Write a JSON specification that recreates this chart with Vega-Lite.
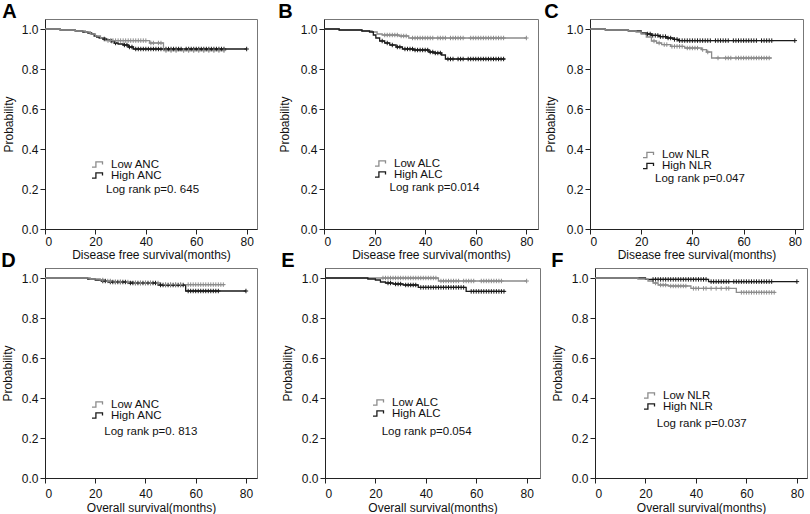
{
"$schema":"https://vega.github.io/schema/vega-lite/v6.json",
"padding":{"left":0,"top":1,"right":0,"bottom":0},
"background":"white",
"config":{
"font":"Liberation Sans",
"view":{"stroke":"#777777","strokeWidth":1},
"axis":{"grid":false,"domainColor":"#222222","tickColor":"#222222","tickSize":5,"labelFontSize":12,"labelColor":"#111111","titleFontSize":12,"titleFontWeight":"normal","titleColor":"#111111","labelPadding":2,"titlePadding":2,"labelFont":"Liberation Sans","titleFont":"Liberation Sans"},
"title":{"anchor":"start","frame":"bounds","fontSize":20,"fontWeight":"bold","offset":-3,"baseline":"alphabetic","color":"#000000","font":"Liberation Sans"},
"legend":{"title":null,"orient":"none","padding":0,"rowPadding":-2,"clipHeight":11,"labelFontSize":11.5,"labelColor":"#111111","labelFont":"Liberation Sans","labelOffset":6,"symbolType":"M-1,0.45H-0.35V-0.45H0.75V0","symbolSize":144,"symbolStrokeWidth":1.4,"symbolFillColor":"transparent"},
"line":{"interpolate":"step-after","strokeWidth":1.3},
"point":{"shape":"M-1,0H1M0,-1V1","filled":false,"size":20,"strokeWidth":1,"opacity":1}
},
"datasets":{
"notes":[{"p":"A","txt":"Log rank p=0. 645"},{"p":"B","txt":"Log rank p=0.014"},{"p":"C","txt":"Log rank p=0.047"},{"p":"D","txt":"Log rank p=0. 813"},{"p":"E","txt":"Log rank p=0.054"},{"p":"F","txt":"Log rank p=0.037"}],
"km":[
{"p":"A","g":"High ANC","t":0,"s":1},{"p":"A","g":"High ANC","t":6,"s":0.995},{"p":"A","g":"High ANC","t":12,"s":0.99},{"p":"A","g":"High ANC","t":15,"s":0.985},{"p":"A","g":"High ANC","t":17,"s":0.98},{"p":"A","g":"High ANC","t":18.5,"s":0.975},{"p":"A","g":"High ANC","t":19.5,"s":0.965},{"p":"A","g":"High ANC","t":20.5,"s":0.96},{"p":"A","g":"High ANC","t":21.5,"s":0.955},{"p":"A","g":"High ANC","t":23,"s":0.95},{"p":"A","g":"High ANC","t":24.5,"s":0.945},{"p":"A","g":"High ANC","t":26,"s":0.94},{"p":"A","g":"High ANC","t":27.5,"s":0.93},{"p":"A","g":"High ANC","t":29,"s":0.925},{"p":"A","g":"High ANC","t":31,"s":0.92},{"p":"A","g":"High ANC","t":33,"s":0.91},{"p":"A","g":"High ANC","t":35,"s":0.9},{"p":"A","g":"High ANC","t":80,"s":0.9},
{"p":"A","g":"Low ANC","t":0,"s":1},{"p":"A","g":"Low ANC","t":6,"s":0.995},{"p":"A","g":"Low ANC","t":12,"s":0.99},{"p":"A","g":"Low ANC","t":16,"s":0.985},{"p":"A","g":"Low ANC","t":18,"s":0.975},{"p":"A","g":"Low ANC","t":20,"s":0.965},{"p":"A","g":"Low ANC","t":22,"s":0.955},{"p":"A","g":"Low ANC","t":24,"s":0.942},{"p":"A","g":"Low ANC","t":41.5,"s":0.93},{"p":"A","g":"Low ANC","t":47,"s":0.892},{"p":"A","g":"Low ANC","t":71.3,"s":0.892},
{"p":"B","g":"Low ALC","t":0,"s":1},{"p":"B","g":"Low ALC","t":6,"s":0.995},{"p":"B","g":"Low ALC","t":15,"s":0.99},{"p":"B","g":"Low ALC","t":19,"s":0.985},{"p":"B","g":"Low ALC","t":21,"s":0.975},{"p":"B","g":"Low ALC","t":23,"s":0.97},{"p":"B","g":"Low ALC","t":29.7,"s":0.965},{"p":"B","g":"Low ALC","t":33.5,"s":0.955},{"p":"B","g":"Low ALC","t":80,"s":0.955},
{"p":"B","g":"High ALC","t":0,"s":1},{"p":"B","g":"High ALC","t":6,"s":0.995},{"p":"B","g":"High ALC","t":15,"s":0.99},{"p":"B","g":"High ALC","t":18,"s":0.985},{"p":"B","g":"High ALC","t":19.5,"s":0.97},{"p":"B","g":"High ALC","t":20.5,"s":0.955},{"p":"B","g":"High ALC","t":22,"s":0.94},{"p":"B","g":"High ALC","t":24,"s":0.93},{"p":"B","g":"High ALC","t":26,"s":0.92},{"p":"B","g":"High ALC","t":28.5,"s":0.91},{"p":"B","g":"High ALC","t":31,"s":0.9},{"p":"B","g":"High ALC","t":35.5,"s":0.895},{"p":"B","g":"High ALC","t":41.5,"s":0.885},{"p":"B","g":"High ALC","t":43.5,"s":0.88},{"p":"B","g":"High ALC","t":46.5,"s":0.87},{"p":"B","g":"High ALC","t":48,"s":0.85},{"p":"B","g":"High ALC","t":71.5,"s":0.85},
{"p":"C","g":"High NLR","t":0,"s":1},{"p":"C","g":"High NLR","t":6,"s":0.995},{"p":"C","g":"High NLR","t":15,"s":0.99},{"p":"C","g":"High NLR","t":20,"s":0.98},{"p":"C","g":"High NLR","t":22,"s":0.975},{"p":"C","g":"High NLR","t":24,"s":0.968},{"p":"C","g":"High NLR","t":27,"s":0.962},{"p":"C","g":"High NLR","t":30,"s":0.955},{"p":"C","g":"High NLR","t":32.5,"s":0.948},{"p":"C","g":"High NLR","t":34.5,"s":0.942},{"p":"C","g":"High NLR","t":80,"s":0.942},
{"p":"C","g":"Low NLR","t":0,"s":1},{"p":"C","g":"Low NLR","t":6,"s":0.995},{"p":"C","g":"Low NLR","t":15,"s":0.99},{"p":"C","g":"Low NLR","t":18,"s":0.985},{"p":"C","g":"Low NLR","t":20,"s":0.975},{"p":"C","g":"Low NLR","t":22,"s":0.96},{"p":"C","g":"Low NLR","t":24,"s":0.94},{"p":"C","g":"Low NLR","t":26,"s":0.93},{"p":"C","g":"Low NLR","t":28,"s":0.922},{"p":"C","g":"Low NLR","t":31.5,"s":0.913},{"p":"C","g":"Low NLR","t":37,"s":0.905},{"p":"C","g":"Low NLR","t":43.5,"s":0.897},{"p":"C","g":"Low NLR","t":45.5,"s":0.885},{"p":"C","g":"Low NLR","t":47.5,"s":0.855},{"p":"C","g":"Low NLR","t":71,"s":0.855},
{"p":"D","g":"High ANC","t":0,"s":1},{"p":"D","g":"High ANC","t":17,"s":0.995},{"p":"D","g":"High ANC","t":20,"s":0.99},{"p":"D","g":"High ANC","t":22.5,"s":0.985},{"p":"D","g":"High ANC","t":25,"s":0.98},{"p":"D","g":"High ANC","t":33,"s":0.975},{"p":"D","g":"High ANC","t":45,"s":0.965},{"p":"D","g":"High ANC","t":56,"s":0.935},{"p":"D","g":"High ANC","t":80,"s":0.935},
{"p":"D","g":"Low ANC","t":0,"s":1},{"p":"D","g":"Low ANC","t":18,"s":0.995},{"p":"D","g":"Low ANC","t":22,"s":0.99},{"p":"D","g":"Low ANC","t":24,"s":0.985},{"p":"D","g":"Low ANC","t":27,"s":0.98},{"p":"D","g":"Low ANC","t":35,"s":0.975},{"p":"D","g":"Low ANC","t":46,"s":0.967},{"p":"D","g":"Low ANC","t":71.5,"s":0.967},
{"p":"E","g":"Low ALC","t":0,"s":1},{"p":"E","g":"Low ALC","t":45,"s":0.985},{"p":"E","g":"Low ALC","t":80,"s":0.985},
{"p":"E","g":"High ALC","t":0,"s":1},{"p":"E","g":"High ALC","t":17,"s":0.995},{"p":"E","g":"High ALC","t":20,"s":0.99},{"p":"E","g":"High ALC","t":22,"s":0.98},{"p":"E","g":"High ALC","t":24,"s":0.975},{"p":"E","g":"High ALC","t":27,"s":0.97},{"p":"E","g":"High ALC","t":31,"s":0.965},{"p":"E","g":"High ALC","t":37,"s":0.953},{"p":"E","g":"High ALC","t":56,"s":0.933},{"p":"E","g":"High ALC","t":71.5,"s":0.933},
{"p":"F","g":"High NLR","t":0,"s":1},{"p":"F","g":"High NLR","t":20,"s":0.993},{"p":"F","g":"High NLR","t":45,"s":0.982},{"p":"F","g":"High NLR","t":80,"s":0.982},
{"p":"F","g":"Low NLR","t":0,"s":1},{"p":"F","g":"Low NLR","t":17,"s":0.995},{"p":"F","g":"Low NLR","t":21,"s":0.985},{"p":"F","g":"Low NLR","t":23,"s":0.975},{"p":"F","g":"Low NLR","t":25,"s":0.965},{"p":"F","g":"Low NLR","t":29,"s":0.96},{"p":"F","g":"Low NLR","t":38,"s":0.948},{"p":"F","g":"Low NLR","t":56,"s":0.928},{"p":"F","g":"Low NLR","t":71.5,"s":0.928}
],
"cens":[
{"p":"A","g":"High ANC","t":23.5,"s":0.95},{"p":"A","g":"High ANC","t":26.5,"s":0.94},{"p":"A","g":"High ANC","t":28,"s":0.93},{"p":"A","g":"High ANC","t":31.5,"s":0.92},{"p":"A","g":"High ANC","t":32.5,"s":0.92},{"p":"A","g":"High ANC","t":33.5,"s":0.91},{"p":"A","g":"High ANC","t":34.5,"s":0.91},{"p":"A","g":"High ANC","t":36,"s":0.9},{"p":"A","g":"High ANC","t":37,"s":0.9},{"p":"A","g":"High ANC","t":38,"s":0.9},{"p":"A","g":"High ANC","t":39,"s":0.9},{"p":"A","g":"High ANC","t":40,"s":0.9},{"p":"A","g":"High ANC","t":41,"s":0.9},{"p":"A","g":"High ANC","t":42,"s":0.9},{"p":"A","g":"High ANC","t":43,"s":0.9},{"p":"A","g":"High ANC","t":44,"s":0.9},{"p":"A","g":"High ANC","t":45,"s":0.9},{"p":"A","g":"High ANC","t":46,"s":0.9},{"p":"A","g":"High ANC","t":48,"s":0.9},{"p":"A","g":"High ANC","t":49,"s":0.9},{"p":"A","g":"High ANC","t":50,"s":0.9},{"p":"A","g":"High ANC","t":51,"s":0.9},{"p":"A","g":"High ANC","t":52,"s":0.9},{"p":"A","g":"High ANC","t":53,"s":0.9},{"p":"A","g":"High ANC","t":54,"s":0.9},{"p":"A","g":"High ANC","t":56,"s":0.9},{"p":"A","g":"High ANC","t":57,"s":0.9},{"p":"A","g":"High ANC","t":58,"s":0.9},{"p":"A","g":"High ANC","t":59,"s":0.9},{"p":"A","g":"High ANC","t":60,"s":0.9},{"p":"A","g":"High ANC","t":61,"s":0.9},{"p":"A","g":"High ANC","t":62,"s":0.9},{"p":"A","g":"High ANC","t":63,"s":0.9},{"p":"A","g":"High ANC","t":64,"s":0.9},{"p":"A","g":"High ANC","t":65,"s":0.9},{"p":"A","g":"High ANC","t":66,"s":0.9},{"p":"A","g":"High ANC","t":67,"s":0.9},{"p":"A","g":"High ANC","t":68,"s":0.9},{"p":"A","g":"High ANC","t":69,"s":0.9},{"p":"A","g":"High ANC","t":70,"s":0.9},{"p":"A","g":"High ANC","t":71,"s":0.9},{"p":"A","g":"High ANC","t":80,"s":0.9},
{"p":"A","g":"Low ANC","t":25,"s":0.942},{"p":"A","g":"Low ANC","t":26,"s":0.942},{"p":"A","g":"Low ANC","t":27,"s":0.942},{"p":"A","g":"Low ANC","t":28,"s":0.942},{"p":"A","g":"Low ANC","t":29,"s":0.942},{"p":"A","g":"Low ANC","t":30,"s":0.942},{"p":"A","g":"Low ANC","t":31,"s":0.942},{"p":"A","g":"Low ANC","t":32,"s":0.942},{"p":"A","g":"Low ANC","t":33,"s":0.942},{"p":"A","g":"Low ANC","t":34,"s":0.942},{"p":"A","g":"Low ANC","t":35,"s":0.942},{"p":"A","g":"Low ANC","t":36,"s":0.942},{"p":"A","g":"Low ANC","t":37,"s":0.942},{"p":"A","g":"Low ANC","t":38,"s":0.942},{"p":"A","g":"Low ANC","t":39,"s":0.942},{"p":"A","g":"Low ANC","t":40,"s":0.942},{"p":"A","g":"Low ANC","t":42,"s":0.93},{"p":"A","g":"Low ANC","t":43,"s":0.93},{"p":"A","g":"Low ANC","t":45,"s":0.93},{"p":"A","g":"Low ANC","t":46,"s":0.93},{"p":"A","g":"Low ANC","t":48,"s":0.892},{"p":"A","g":"Low ANC","t":50,"s":0.892},{"p":"A","g":"Low ANC","t":52,"s":0.892},{"p":"A","g":"Low ANC","t":55,"s":0.892},{"p":"A","g":"Low ANC","t":57,"s":0.892},{"p":"A","g":"Low ANC","t":59,"s":0.892},{"p":"A","g":"Low ANC","t":61,"s":0.892},{"p":"A","g":"Low ANC","t":63,"s":0.892},{"p":"A","g":"Low ANC","t":65,"s":0.892},{"p":"A","g":"Low ANC","t":67,"s":0.892},{"p":"A","g":"Low ANC","t":69,"s":0.892},{"p":"A","g":"Low ANC","t":71,"s":0.892},
{"p":"B","g":"Low ALC","t":24,"s":0.97},{"p":"B","g":"Low ALC","t":25,"s":0.97},{"p":"B","g":"Low ALC","t":26,"s":0.97},{"p":"B","g":"Low ALC","t":27,"s":0.97},{"p":"B","g":"Low ALC","t":28,"s":0.97},{"p":"B","g":"Low ALC","t":29,"s":0.97},{"p":"B","g":"Low ALC","t":30.5,"s":0.965},{"p":"B","g":"Low ALC","t":31.5,"s":0.965},{"p":"B","g":"Low ALC","t":32.5,"s":0.965},{"p":"B","g":"Low ALC","t":35,"s":0.955},{"p":"B","g":"Low ALC","t":36,"s":0.955},{"p":"B","g":"Low ALC","t":37,"s":0.955},{"p":"B","g":"Low ALC","t":38,"s":0.955},{"p":"B","g":"Low ALC","t":39,"s":0.955},{"p":"B","g":"Low ALC","t":40,"s":0.955},{"p":"B","g":"Low ALC","t":41,"s":0.955},{"p":"B","g":"Low ALC","t":42,"s":0.955},{"p":"B","g":"Low ALC","t":43,"s":0.955},{"p":"B","g":"Low ALC","t":45,"s":0.955},{"p":"B","g":"Low ALC","t":46,"s":0.955},{"p":"B","g":"Low ALC","t":47,"s":0.955},{"p":"B","g":"Low ALC","t":48,"s":0.955},{"p":"B","g":"Low ALC","t":50,"s":0.955},{"p":"B","g":"Low ALC","t":51,"s":0.955},{"p":"B","g":"Low ALC","t":52,"s":0.955},{"p":"B","g":"Low ALC","t":53,"s":0.955},{"p":"B","g":"Low ALC","t":54,"s":0.955},{"p":"B","g":"Low ALC","t":55,"s":0.955},{"p":"B","g":"Low ALC","t":58,"s":0.955},{"p":"B","g":"Low ALC","t":59,"s":0.955},{"p":"B","g":"Low ALC","t":60,"s":0.955},{"p":"B","g":"Low ALC","t":61,"s":0.955},{"p":"B","g":"Low ALC","t":62,"s":0.955},{"p":"B","g":"Low ALC","t":63,"s":0.955},{"p":"B","g":"Low ALC","t":64,"s":0.955},{"p":"B","g":"Low ALC","t":65,"s":0.955},{"p":"B","g":"Low ALC","t":66,"s":0.955},{"p":"B","g":"Low ALC","t":67,"s":0.955},{"p":"B","g":"Low ALC","t":68,"s":0.955},{"p":"B","g":"Low ALC","t":69,"s":0.955},{"p":"B","g":"Low ALC","t":70,"s":0.955},{"p":"B","g":"Low ALC","t":71,"s":0.955},{"p":"B","g":"Low ALC","t":80,"s":0.955},
{"p":"B","g":"High ALC","t":23,"s":0.94},{"p":"B","g":"High ALC","t":25,"s":0.93},{"p":"B","g":"High ALC","t":27,"s":0.92},{"p":"B","g":"High ALC","t":29,"s":0.91},{"p":"B","g":"High ALC","t":30,"s":0.91},{"p":"B","g":"High ALC","t":32,"s":0.9},{"p":"B","g":"High ALC","t":33,"s":0.9},{"p":"B","g":"High ALC","t":34,"s":0.9},{"p":"B","g":"High ALC","t":35,"s":0.9},{"p":"B","g":"High ALC","t":36,"s":0.895},{"p":"B","g":"High ALC","t":37,"s":0.895},{"p":"B","g":"High ALC","t":38,"s":0.895},{"p":"B","g":"High ALC","t":39,"s":0.895},{"p":"B","g":"High ALC","t":40,"s":0.895},{"p":"B","g":"High ALC","t":41,"s":0.895},{"p":"B","g":"High ALC","t":42,"s":0.885},{"p":"B","g":"High ALC","t":43,"s":0.885},{"p":"B","g":"High ALC","t":44,"s":0.88},{"p":"B","g":"High ALC","t":45,"s":0.88},{"p":"B","g":"High ALC","t":46,"s":0.88},{"p":"B","g":"High ALC","t":49,"s":0.85},{"p":"B","g":"High ALC","t":50,"s":0.85},{"p":"B","g":"High ALC","t":51,"s":0.85},{"p":"B","g":"High ALC","t":53,"s":0.85},{"p":"B","g":"High ALC","t":54,"s":0.85},{"p":"B","g":"High ALC","t":55,"s":0.85},{"p":"B","g":"High ALC","t":57,"s":0.85},{"p":"B","g":"High ALC","t":58,"s":0.85},{"p":"B","g":"High ALC","t":59,"s":0.85},{"p":"B","g":"High ALC","t":60,"s":0.85},{"p":"B","g":"High ALC","t":61,"s":0.85},{"p":"B","g":"High ALC","t":62,"s":0.85},{"p":"B","g":"High ALC","t":63,"s":0.85},{"p":"B","g":"High ALC","t":64,"s":0.85},{"p":"B","g":"High ALC","t":65,"s":0.85},{"p":"B","g":"High ALC","t":66,"s":0.85},{"p":"B","g":"High ALC","t":67,"s":0.85},{"p":"B","g":"High ALC","t":68,"s":0.85},{"p":"B","g":"High ALC","t":69,"s":0.85},{"p":"B","g":"High ALC","t":70,"s":0.85},{"p":"B","g":"High ALC","t":71,"s":0.85},
{"p":"C","g":"High NLR","t":22.5,"s":0.975},{"p":"C","g":"High NLR","t":23.5,"s":0.975},{"p":"C","g":"High NLR","t":24.5,"s":0.968},{"p":"C","g":"High NLR","t":25.5,"s":0.968},{"p":"C","g":"High NLR","t":26.5,"s":0.968},{"p":"C","g":"High NLR","t":27.5,"s":0.962},{"p":"C","g":"High NLR","t":28.5,"s":0.962},{"p":"C","g":"High NLR","t":29.5,"s":0.962},{"p":"C","g":"High NLR","t":30.5,"s":0.955},{"p":"C","g":"High NLR","t":31.5,"s":0.955},{"p":"C","g":"High NLR","t":33,"s":0.948},{"p":"C","g":"High NLR","t":34,"s":0.948},{"p":"C","g":"High NLR","t":35,"s":0.942},{"p":"C","g":"High NLR","t":36,"s":0.942},{"p":"C","g":"High NLR","t":37,"s":0.942},{"p":"C","g":"High NLR","t":38,"s":0.942},{"p":"C","g":"High NLR","t":39,"s":0.942},{"p":"C","g":"High NLR","t":40,"s":0.942},{"p":"C","g":"High NLR","t":41,"s":0.942},{"p":"C","g":"High NLR","t":42,"s":0.942},{"p":"C","g":"High NLR","t":43,"s":0.942},{"p":"C","g":"High NLR","t":44,"s":0.942},{"p":"C","g":"High NLR","t":45,"s":0.942},{"p":"C","g":"High NLR","t":46,"s":0.942},{"p":"C","g":"High NLR","t":47,"s":0.942},{"p":"C","g":"High NLR","t":49,"s":0.942},{"p":"C","g":"High NLR","t":50,"s":0.942},{"p":"C","g":"High NLR","t":51,"s":0.942},{"p":"C","g":"High NLR","t":52,"s":0.942},{"p":"C","g":"High NLR","t":53,"s":0.942},{"p":"C","g":"High NLR","t":54,"s":0.942},{"p":"C","g":"High NLR","t":56,"s":0.942},{"p":"C","g":"High NLR","t":57,"s":0.942},{"p":"C","g":"High NLR","t":58,"s":0.942},{"p":"C","g":"High NLR","t":59,"s":0.942},{"p":"C","g":"High NLR","t":60,"s":0.942},{"p":"C","g":"High NLR","t":61,"s":0.942},{"p":"C","g":"High NLR","t":62,"s":0.942},{"p":"C","g":"High NLR","t":63,"s":0.942},{"p":"C","g":"High NLR","t":64,"s":0.942},{"p":"C","g":"High NLR","t":65,"s":0.942},{"p":"C","g":"High NLR","t":67,"s":0.942},{"p":"C","g":"High NLR","t":68,"s":0.942},{"p":"C","g":"High NLR","t":69,"s":0.942},{"p":"C","g":"High NLR","t":70,"s":0.942},{"p":"C","g":"High NLR","t":71,"s":0.942},{"p":"C","g":"High NLR","t":80,"s":0.942},
{"p":"C","g":"Low NLR","t":25,"s":0.94},{"p":"C","g":"Low NLR","t":27,"s":0.93},{"p":"C","g":"Low NLR","t":29,"s":0.922},{"p":"C","g":"Low NLR","t":30,"s":0.922},{"p":"C","g":"Low NLR","t":32,"s":0.913},{"p":"C","g":"Low NLR","t":33,"s":0.913},{"p":"C","g":"Low NLR","t":34,"s":0.913},{"p":"C","g":"Low NLR","t":35,"s":0.913},{"p":"C","g":"Low NLR","t":36,"s":0.913},{"p":"C","g":"Low NLR","t":38,"s":0.905},{"p":"C","g":"Low NLR","t":39,"s":0.905},{"p":"C","g":"Low NLR","t":40,"s":0.905},{"p":"C","g":"Low NLR","t":41,"s":0.905},{"p":"C","g":"Low NLR","t":42,"s":0.905},{"p":"C","g":"Low NLR","t":44,"s":0.897},{"p":"C","g":"Low NLR","t":46,"s":0.885},{"p":"C","g":"Low NLR","t":50,"s":0.855},{"p":"C","g":"Low NLR","t":53,"s":0.855},{"p":"C","g":"Low NLR","t":54,"s":0.855},{"p":"C","g":"Low NLR","t":55,"s":0.855},{"p":"C","g":"Low NLR","t":57,"s":0.855},{"p":"C","g":"Low NLR","t":58,"s":0.855},{"p":"C","g":"Low NLR","t":59,"s":0.855},{"p":"C","g":"Low NLR","t":60,"s":0.855},{"p":"C","g":"Low NLR","t":61,"s":0.855},{"p":"C","g":"Low NLR","t":62,"s":0.855},{"p":"C","g":"Low NLR","t":63,"s":0.855},{"p":"C","g":"Low NLR","t":64,"s":0.855},{"p":"C","g":"Low NLR","t":65,"s":0.855},{"p":"C","g":"Low NLR","t":66,"s":0.855},{"p":"C","g":"Low NLR","t":67,"s":0.855},{"p":"C","g":"Low NLR","t":68,"s":0.855},{"p":"C","g":"Low NLR","t":69,"s":0.855},{"p":"C","g":"Low NLR","t":70,"s":0.855},
{"p":"D","g":"High ANC","t":23,"s":0.985},{"p":"D","g":"High ANC","t":24,"s":0.985},{"p":"D","g":"High ANC","t":26,"s":0.98},{"p":"D","g":"High ANC","t":27,"s":0.98},{"p":"D","g":"High ANC","t":28,"s":0.98},{"p":"D","g":"High ANC","t":29,"s":0.98},{"p":"D","g":"High ANC","t":30,"s":0.98},{"p":"D","g":"High ANC","t":31,"s":0.98},{"p":"D","g":"High ANC","t":32,"s":0.98},{"p":"D","g":"High ANC","t":34,"s":0.975},{"p":"D","g":"High ANC","t":35,"s":0.975},{"p":"D","g":"High ANC","t":36,"s":0.975},{"p":"D","g":"High ANC","t":37,"s":0.975},{"p":"D","g":"High ANC","t":38,"s":0.975},{"p":"D","g":"High ANC","t":39,"s":0.975},{"p":"D","g":"High ANC","t":40,"s":0.975},{"p":"D","g":"High ANC","t":41,"s":0.975},{"p":"D","g":"High ANC","t":42,"s":0.975},{"p":"D","g":"High ANC","t":43,"s":0.975},{"p":"D","g":"High ANC","t":44,"s":0.975},{"p":"D","g":"High ANC","t":46,"s":0.965},{"p":"D","g":"High ANC","t":47,"s":0.965},{"p":"D","g":"High ANC","t":48,"s":0.965},{"p":"D","g":"High ANC","t":49,"s":0.965},{"p":"D","g":"High ANC","t":50,"s":0.965},{"p":"D","g":"High ANC","t":51,"s":0.965},{"p":"D","g":"High ANC","t":52,"s":0.965},{"p":"D","g":"High ANC","t":53,"s":0.965},{"p":"D","g":"High ANC","t":54,"s":0.965},{"p":"D","g":"High ANC","t":55,"s":0.965},{"p":"D","g":"High ANC","t":57,"s":0.935},{"p":"D","g":"High ANC","t":58,"s":0.935},{"p":"D","g":"High ANC","t":59,"s":0.935},{"p":"D","g":"High ANC","t":60,"s":0.935},{"p":"D","g":"High ANC","t":61,"s":0.935},{"p":"D","g":"High ANC","t":62,"s":0.935},{"p":"D","g":"High ANC","t":63,"s":0.935},{"p":"D","g":"High ANC","t":64,"s":0.935},{"p":"D","g":"High ANC","t":65,"s":0.935},{"p":"D","g":"High ANC","t":66,"s":0.935},{"p":"D","g":"High ANC","t":67,"s":0.935},{"p":"D","g":"High ANC","t":68,"s":0.935},{"p":"D","g":"High ANC","t":69,"s":0.935},{"p":"D","g":"High ANC","t":80,"s":0.935},
{"p":"D","g":"Low ANC","t":23,"s":0.99},{"p":"D","g":"Low ANC","t":25,"s":0.985},{"p":"D","g":"Low ANC","t":26,"s":0.985},{"p":"D","g":"Low ANC","t":28,"s":0.98},{"p":"D","g":"Low ANC","t":30,"s":0.98},{"p":"D","g":"Low ANC","t":33,"s":0.98},{"p":"D","g":"Low ANC","t":36,"s":0.975},{"p":"D","g":"Low ANC","t":38,"s":0.975},{"p":"D","g":"Low ANC","t":40,"s":0.975},{"p":"D","g":"Low ANC","t":42,"s":0.975},{"p":"D","g":"Low ANC","t":45,"s":0.975},{"p":"D","g":"Low ANC","t":48,"s":0.967},{"p":"D","g":"Low ANC","t":50,"s":0.967},{"p":"D","g":"Low ANC","t":52,"s":0.967},{"p":"D","g":"Low ANC","t":54,"s":0.967},{"p":"D","g":"Low ANC","t":57,"s":0.967},{"p":"D","g":"Low ANC","t":58,"s":0.967},{"p":"D","g":"Low ANC","t":59,"s":0.967},{"p":"D","g":"Low ANC","t":60,"s":0.967},{"p":"D","g":"Low ANC","t":61,"s":0.967},{"p":"D","g":"Low ANC","t":62,"s":0.967},{"p":"D","g":"Low ANC","t":63,"s":0.967},{"p":"D","g":"Low ANC","t":64,"s":0.967},{"p":"D","g":"Low ANC","t":65,"s":0.967},{"p":"D","g":"Low ANC","t":66,"s":0.967},{"p":"D","g":"Low ANC","t":67,"s":0.967},{"p":"D","g":"Low ANC","t":68,"s":0.967},{"p":"D","g":"Low ANC","t":69,"s":0.967},{"p":"D","g":"Low ANC","t":70,"s":0.967},{"p":"D","g":"Low ANC","t":71,"s":0.967},
{"p":"E","g":"Low ALC","t":23,"s":1},{"p":"E","g":"Low ALC","t":24,"s":1},{"p":"E","g":"Low ALC","t":25,"s":1},{"p":"E","g":"Low ALC","t":26,"s":1},{"p":"E","g":"Low ALC","t":27,"s":1},{"p":"E","g":"Low ALC","t":28,"s":1},{"p":"E","g":"Low ALC","t":29,"s":1},{"p":"E","g":"Low ALC","t":30,"s":1},{"p":"E","g":"Low ALC","t":31,"s":1},{"p":"E","g":"Low ALC","t":32,"s":1},{"p":"E","g":"Low ALC","t":33,"s":1},{"p":"E","g":"Low ALC","t":34,"s":1},{"p":"E","g":"Low ALC","t":35,"s":1},{"p":"E","g":"Low ALC","t":36,"s":1},{"p":"E","g":"Low ALC","t":37,"s":1},{"p":"E","g":"Low ALC","t":38,"s":1},{"p":"E","g":"Low ALC","t":39,"s":1},{"p":"E","g":"Low ALC","t":40,"s":1},{"p":"E","g":"Low ALC","t":41,"s":1},{"p":"E","g":"Low ALC","t":42,"s":1},{"p":"E","g":"Low ALC","t":43,"s":1},{"p":"E","g":"Low ALC","t":44,"s":1},{"p":"E","g":"Low ALC","t":46,"s":0.985},{"p":"E","g":"Low ALC","t":47,"s":0.985},{"p":"E","g":"Low ALC","t":48,"s":0.985},{"p":"E","g":"Low ALC","t":49,"s":0.985},{"p":"E","g":"Low ALC","t":50,"s":0.985},{"p":"E","g":"Low ALC","t":51,"s":0.985},{"p":"E","g":"Low ALC","t":52,"s":0.985},{"p":"E","g":"Low ALC","t":53,"s":0.985},{"p":"E","g":"Low ALC","t":55,"s":0.985},{"p":"E","g":"Low ALC","t":56,"s":0.985},{"p":"E","g":"Low ALC","t":57,"s":0.985},{"p":"E","g":"Low ALC","t":58,"s":0.985},{"p":"E","g":"Low ALC","t":59,"s":0.985},{"p":"E","g":"Low ALC","t":62,"s":0.985},{"p":"E","g":"Low ALC","t":63,"s":0.985},{"p":"E","g":"Low ALC","t":64,"s":0.985},{"p":"E","g":"Low ALC","t":65,"s":0.985},{"p":"E","g":"Low ALC","t":66,"s":0.985},{"p":"E","g":"Low ALC","t":67,"s":0.985},{"p":"E","g":"Low ALC","t":68,"s":0.985},{"p":"E","g":"Low ALC","t":69,"s":0.985},{"p":"E","g":"Low ALC","t":70,"s":0.985},{"p":"E","g":"Low ALC","t":80,"s":0.985},
{"p":"E","g":"High ALC","t":25,"s":0.975},{"p":"E","g":"High ALC","t":26,"s":0.975},{"p":"E","g":"High ALC","t":28,"s":0.97},{"p":"E","g":"High ALC","t":29,"s":0.97},{"p":"E","g":"High ALC","t":30,"s":0.97},{"p":"E","g":"High ALC","t":32,"s":0.965},{"p":"E","g":"High ALC","t":33,"s":0.965},{"p":"E","g":"High ALC","t":34,"s":0.965},{"p":"E","g":"High ALC","t":35,"s":0.965},{"p":"E","g":"High ALC","t":36,"s":0.965},{"p":"E","g":"High ALC","t":38,"s":0.953},{"p":"E","g":"High ALC","t":39,"s":0.953},{"p":"E","g":"High ALC","t":40,"s":0.953},{"p":"E","g":"High ALC","t":41,"s":0.953},{"p":"E","g":"High ALC","t":42,"s":0.953},{"p":"E","g":"High ALC","t":43,"s":0.953},{"p":"E","g":"High ALC","t":44,"s":0.953},{"p":"E","g":"High ALC","t":45,"s":0.953},{"p":"E","g":"High ALC","t":46,"s":0.953},{"p":"E","g":"High ALC","t":47,"s":0.953},{"p":"E","g":"High ALC","t":48,"s":0.953},{"p":"E","g":"High ALC","t":49,"s":0.953},{"p":"E","g":"High ALC","t":50,"s":0.953},{"p":"E","g":"High ALC","t":51,"s":0.953},{"p":"E","g":"High ALC","t":52,"s":0.953},{"p":"E","g":"High ALC","t":53,"s":0.953},{"p":"E","g":"High ALC","t":54,"s":0.953},{"p":"E","g":"High ALC","t":55,"s":0.953},{"p":"E","g":"High ALC","t":58,"s":0.933},{"p":"E","g":"High ALC","t":59,"s":0.933},{"p":"E","g":"High ALC","t":60,"s":0.933},{"p":"E","g":"High ALC","t":61,"s":0.933},{"p":"E","g":"High ALC","t":62,"s":0.933},{"p":"E","g":"High ALC","t":63,"s":0.933},{"p":"E","g":"High ALC","t":64,"s":0.933},{"p":"E","g":"High ALC","t":65,"s":0.933},{"p":"E","g":"High ALC","t":66,"s":0.933},{"p":"E","g":"High ALC","t":67,"s":0.933},{"p":"E","g":"High ALC","t":68,"s":0.933},{"p":"E","g":"High ALC","t":69,"s":0.933},{"p":"E","g":"High ALC","t":70,"s":0.933},{"p":"E","g":"High ALC","t":71,"s":0.933},
{"p":"F","g":"High NLR","t":23,"s":0.993},{"p":"F","g":"High NLR","t":24,"s":0.993},{"p":"F","g":"High NLR","t":25,"s":0.993},{"p":"F","g":"High NLR","t":26,"s":0.993},{"p":"F","g":"High NLR","t":27,"s":0.993},{"p":"F","g":"High NLR","t":28,"s":0.993},{"p":"F","g":"High NLR","t":29,"s":0.993},{"p":"F","g":"High NLR","t":30,"s":0.993},{"p":"F","g":"High NLR","t":31,"s":0.993},{"p":"F","g":"High NLR","t":32,"s":0.993},{"p":"F","g":"High NLR","t":33,"s":0.993},{"p":"F","g":"High NLR","t":34,"s":0.993},{"p":"F","g":"High NLR","t":35,"s":0.993},{"p":"F","g":"High NLR","t":36,"s":0.993},{"p":"F","g":"High NLR","t":37,"s":0.993},{"p":"F","g":"High NLR","t":38,"s":0.993},{"p":"F","g":"High NLR","t":39,"s":0.993},{"p":"F","g":"High NLR","t":40,"s":0.993},{"p":"F","g":"High NLR","t":41,"s":0.993},{"p":"F","g":"High NLR","t":42,"s":0.993},{"p":"F","g":"High NLR","t":43,"s":0.993},{"p":"F","g":"High NLR","t":44,"s":0.993},{"p":"F","g":"High NLR","t":46,"s":0.982},{"p":"F","g":"High NLR","t":47,"s":0.982},{"p":"F","g":"High NLR","t":48,"s":0.982},{"p":"F","g":"High NLR","t":49,"s":0.982},{"p":"F","g":"High NLR","t":50,"s":0.982},{"p":"F","g":"High NLR","t":51,"s":0.982},{"p":"F","g":"High NLR","t":52,"s":0.982},{"p":"F","g":"High NLR","t":53,"s":0.982},{"p":"F","g":"High NLR","t":55,"s":0.982},{"p":"F","g":"High NLR","t":56,"s":0.982},{"p":"F","g":"High NLR","t":57,"s":0.982},{"p":"F","g":"High NLR","t":58,"s":0.982},{"p":"F","g":"High NLR","t":59,"s":0.982},{"p":"F","g":"High NLR","t":60,"s":0.982},{"p":"F","g":"High NLR","t":61,"s":0.982},{"p":"F","g":"High NLR","t":62,"s":0.982},{"p":"F","g":"High NLR","t":63,"s":0.982},{"p":"F","g":"High NLR","t":64,"s":0.982},{"p":"F","g":"High NLR","t":65,"s":0.982},{"p":"F","g":"High NLR","t":66,"s":0.982},{"p":"F","g":"High NLR","t":67,"s":0.982},{"p":"F","g":"High NLR","t":68,"s":0.982},{"p":"F","g":"High NLR","t":69,"s":0.982},{"p":"F","g":"High NLR","t":70,"s":0.982},{"p":"F","g":"High NLR","t":80,"s":0.982},
{"p":"F","g":"Low NLR","t":24,"s":0.975},{"p":"F","g":"Low NLR","t":26,"s":0.965},{"p":"F","g":"Low NLR","t":27,"s":0.965},{"p":"F","g":"Low NLR","t":28,"s":0.965},{"p":"F","g":"Low NLR","t":30,"s":0.96},{"p":"F","g":"Low NLR","t":31,"s":0.96},{"p":"F","g":"Low NLR","t":32,"s":0.96},{"p":"F","g":"Low NLR","t":33,"s":0.96},{"p":"F","g":"Low NLR","t":34,"s":0.96},{"p":"F","g":"Low NLR","t":35,"s":0.96},{"p":"F","g":"Low NLR","t":36,"s":0.96},{"p":"F","g":"Low NLR","t":39,"s":0.948},{"p":"F","g":"Low NLR","t":40,"s":0.948},{"p":"F","g":"Low NLR","t":41,"s":0.948},{"p":"F","g":"Low NLR","t":43,"s":0.948},{"p":"F","g":"Low NLR","t":44,"s":0.948},{"p":"F","g":"Low NLR","t":46,"s":0.948},{"p":"F","g":"Low NLR","t":48,"s":0.948},{"p":"F","g":"Low NLR","t":50,"s":0.948},{"p":"F","g":"Low NLR","t":52,"s":0.948},{"p":"F","g":"Low NLR","t":53,"s":0.948},{"p":"F","g":"Low NLR","t":58,"s":0.928},{"p":"F","g":"Low NLR","t":59,"s":0.928},{"p":"F","g":"Low NLR","t":60,"s":0.928},{"p":"F","g":"Low NLR","t":61,"s":0.928},{"p":"F","g":"Low NLR","t":62,"s":0.928},{"p":"F","g":"Low NLR","t":63,"s":0.928},{"p":"F","g":"Low NLR","t":64,"s":0.928},{"p":"F","g":"Low NLR","t":65,"s":0.928},{"p":"F","g":"Low NLR","t":66,"s":0.928},{"p":"F","g":"Low NLR","t":67,"s":0.928},{"p":"F","g":"Low NLR","t":68,"s":0.928},{"p":"F","g":"Low NLR","t":69,"s":0.928},{"p":"F","g":"Low NLR","t":70,"s":0.928},{"p":"F","g":"Low NLR","t":71,"s":0.928}
]
},
"spacing":-11,
"resolve":{"scale":{"color":"independent"},"legend":{"color":"independent"}},
"vconcat":[
{"spacing":19,"resolve":{"scale":{"color":"independent"},"legend":{"color":"independent"}},
"hconcat":[
{"width":212,"height":210,"title":"A","layer":[
{"data":{"name":"km"},"transform":[{"filter":"datum.p === 'A'"}],"mark":{"type":"line"},"encoding":{
"x":{"field":"t","type":"quantitative","scale":{"domain":[0,84.1],"nice":false},"axis":{"values":[0,20,40,60,80],"title":"Disease free survival(months)"}},
"y":{"field":"s","type":"quantitative","scale":{"domain":[0,1.05],"nice":false},"axis":{"values":[0,0.2,0.4,0.6,0.8,1],"format":".1f","title":"Probability","titlePadding":6}},
"color":{"field":"g","type":"nominal","scale":{"domain":["Low ANC","High ANC"],"range":["#8c8c8c","#1a1a1a"]},"legend":{"legendX":46,"legendY":140,"symbolType":"M-1,0.45H-0.35V-0.45H0.75V0","symbolFillColor":"transparent"}}}},
{"data":{"name":"cens"},"transform":[{"filter":"datum.p === 'A'"}],"mark":{"type":"point"},"encoding":{"x":{"field":"t","type":"quantitative"},"y":{"field":"s","type":"quantitative"},"color":{"field":"g","type":"nominal"}}},
{"data":{"name":"notes"},"transform":[{"filter":"datum.p === 'A'"}],"mark":{"type":"text","align":"left","baseline":"middle","fontSize":11.5,"color":"#111111"},"encoding":{"x":{"datum":24.2,"type":"quantitative"},"y":{"datum":0.193,"type":"quantitative"},"text":{"field":"txt"}}}
]},
{"spacing":4,"resolve":{"scale":{"color":"independent"},"legend":{"color":"independent"}},"hconcat":[
{"width":214,"height":210,"title":"B","layer":[
{"data":{"name":"km"},"transform":[{"filter":"datum.p === 'B'"}],"mark":{"type":"line"},"encoding":{
"x":{"field":"t","type":"quantitative","scale":{"domain":[0,84.6],"nice":false},"axis":{"values":[0,20,40,60,80],"title":"Disease free survival(months)"}},
"y":{"field":"s","type":"quantitative","scale":{"domain":[0,1.05],"nice":false},"axis":{"values":[0,0.2,0.4,0.6,0.8,1],"format":".1f","title":"Probability","titlePadding":9}},
"color":{"field":"g","type":"nominal","scale":{"domain":["Low ALC","High ALC"],"range":["#8c8c8c","#1a1a1a"]},"legend":{"legendX":50,"legendY":139,"symbolType":"M-1,0.45H-0.35V-0.45H0.75V0","symbolFillColor":"transparent"}}}},
{"data":{"name":"cens"},"transform":[{"filter":"datum.p === 'B'"}],"mark":{"type":"point"},"encoding":{"x":{"field":"t","type":"quantitative"},"y":{"field":"s","type":"quantitative"},"color":{"field":"g","type":"nominal"}}},
{"data":{"name":"notes"},"transform":[{"filter":"datum.p === 'B'"}],"mark":{"type":"text","align":"left","baseline":"middle","fontSize":11.5,"color":"#111111"},"encoding":{"x":{"datum":25.9,"type":"quantitative"},"y":{"datum":0.203,"type":"quantitative"},"text":{"field":"txt"}}}
]},
{"width":213,"height":210,"title":"C","layer":[
{"data":{"name":"km"},"transform":[{"filter":"datum.p === 'C'"}],"mark":{"type":"line"},"encoding":{
"x":{"field":"t","type":"quantitative","scale":{"domain":[0,83.2],"nice":false},"axis":{"values":[0,20,40,60,80],"title":"Disease free survival(months)"}},
"y":{"field":"s","type":"quantitative","scale":{"domain":[0,1.05],"nice":false},"axis":{"values":[0,0.2,0.4,0.6,0.8,1],"format":".1f","title":"Probability","titlePadding":9}},
"color":{"field":"g","type":"nominal","scale":{"domain":["Low NLR","High NLR"],"range":["#8c8c8c","#1a1a1a"]},"legend":{"legendX":52,"legendY":130.5,"symbolType":"M-1,0.45H-0.35V-0.45H0.75V0","symbolFillColor":"transparent"}}}},
{"data":{"name":"cens"},"transform":[{"filter":"datum.p === 'C'"}],"mark":{"type":"point"},"encoding":{"x":{"field":"t","type":"quantitative"},"y":{"field":"s","type":"quantitative"},"color":{"field":"g","type":"nominal"}}},
{"data":{"name":"notes"},"transform":[{"filter":"datum.p === 'C'"}],"mark":{"type":"text","align":"left","baseline":"middle","fontSize":11.5,"color":"#111111"},"encoding":{"x":{"datum":25.4,"type":"quantitative"},"y":{"datum":0.252,"type":"quantitative"},"text":{"field":"txt"}}}
]}
]}
]},
{"spacing":22,"resolve":{"scale":{"color":"independent"},"legend":{"color":"independent"}},
"hconcat":[
{"width":212,"height":210,"title":"D","layer":[
{"data":{"name":"km"},"transform":[{"filter":"datum.p === 'D'"}],"mark":{"type":"line"},"encoding":{
"x":{"field":"t","type":"quantitative","scale":{"domain":[0,84.4],"nice":false},"axis":{"values":[0,20,40,60,80],"title":"Overall survival(months)","labelPadding":5,"titlePadding":3}},
"y":{"field":"s","type":"quantitative","scale":{"domain":[0,1.05],"nice":false},"axis":{"values":[0,0.2,0.4,0.6,0.8,1],"format":".1f","title":"Probability","titlePadding":7}},
"color":{"field":"g","type":"nominal","scale":{"domain":["Low ANC","High ANC"],"range":["#8c8c8c","#1a1a1a"]},"legend":{"legendX":46,"legendY":131,"symbolType":"M-1,0.45H-0.35V-0.45H0.75V0","symbolFillColor":"transparent"}}}},
{"data":{"name":"cens"},"transform":[{"filter":"datum.p === 'D'"}],"mark":{"type":"point"},"encoding":{"x":{"field":"t","type":"quantitative"},"y":{"field":"s","type":"quantitative"},"color":{"field":"g","type":"nominal"}}},
{"data":{"name":"notes"},"transform":[{"filter":"datum.p === 'D'"}],"mark":{"type":"text","align":"left","baseline":"middle","fontSize":11.5,"color":"#111111"},"encoding":{"x":{"datum":23.6,"type":"quantitative"},"y":{"datum":0.232,"type":"quantitative"},"text":{"field":"txt"}}}
]},
{"spacing":9,"resolve":{"scale":{"color":"independent"},"legend":{"color":"independent"}},"hconcat":[
{"width":215,"height":210,"title":"E","layer":[
{"data":{"name":"km"},"transform":[{"filter":"datum.p === 'E'"}],"mark":{"type":"line"},"encoding":{
"x":{"field":"t","type":"quantitative","scale":{"domain":[0,85.3],"nice":false},"axis":{"values":[0,20,40,60,80],"title":"Overall survival(months)","labelPadding":5,"titlePadding":3}},
"y":{"field":"s","type":"quantitative","scale":{"domain":[0,1.05],"nice":false},"axis":{"values":[0,0.2,0.4,0.6,0.8,1],"format":".1f","title":"Probability","titlePadding":7}},
"color":{"field":"g","type":"nominal","scale":{"domain":["Low ALC","High ALC"],"range":["#8c8c8c","#1a1a1a"]},"legend":{"legendX":47,"legendY":129,"symbolType":"M-1,0.45H-0.35V-0.45H0.75V0","symbolFillColor":"transparent"}}}},
{"data":{"name":"cens"},"transform":[{"filter":"datum.p === 'E'"}],"mark":{"type":"point"},"encoding":{"x":{"field":"t","type":"quantitative"},"y":{"field":"s","type":"quantitative"},"color":{"field":"g","type":"nominal"}}},
{"data":{"name":"notes"},"transform":[{"filter":"datum.p === 'E'"}],"mark":{"type":"text","align":"left","baseline":"middle","fontSize":11.5,"color":"#111111"},"encoding":{"x":{"datum":22.5,"type":"quantitative"},"y":{"datum":0.232,"type":"quantitative"},"text":{"field":"txt"}}}
]},
{"width":212,"height":210,"title":"F","layer":[
{"data":{"name":"km"},"transform":[{"filter":"datum.p === 'F'"}],"mark":{"type":"line"},"encoding":{
"x":{"field":"t","type":"quantitative","scale":{"domain":[0,84],"nice":false},"axis":{"values":[0,20,40,60,80],"title":"Overall survival(months)","labelPadding":5,"titlePadding":3}},
"y":{"field":"s","type":"quantitative","scale":{"domain":[0,1.05],"nice":false},"axis":{"values":[0,0.2,0.4,0.6,0.8,1],"format":".1f","title":"Probability","titlePadding":7}},
"color":{"field":"g","type":"nominal","scale":{"domain":["Low NLR","High NLR"],"range":["#8c8c8c","#1a1a1a"]},"legend":{"legendX":48,"legendY":122,"symbolType":"M-1,0.45H-0.35V-0.45H0.75V0","symbolFillColor":"transparent"}}}},
{"data":{"name":"cens"},"transform":[{"filter":"datum.p === 'F'"}],"mark":{"type":"point"},"encoding":{"x":{"field":"t","type":"quantitative"},"y":{"field":"s","type":"quantitative"},"color":{"field":"g","type":"nominal"}}},
{"data":{"name":"notes"},"transform":[{"filter":"datum.p === 'F'"}],"mark":{"type":"text","align":"left","baseline":"middle","fontSize":11.5,"color":"#111111"},"encoding":{"x":{"datum":24.5,"type":"quantitative"},"y":{"datum":0.272,"type":"quantitative"},"text":{"field":"txt"}}}
]}
]}
]}
]
}
